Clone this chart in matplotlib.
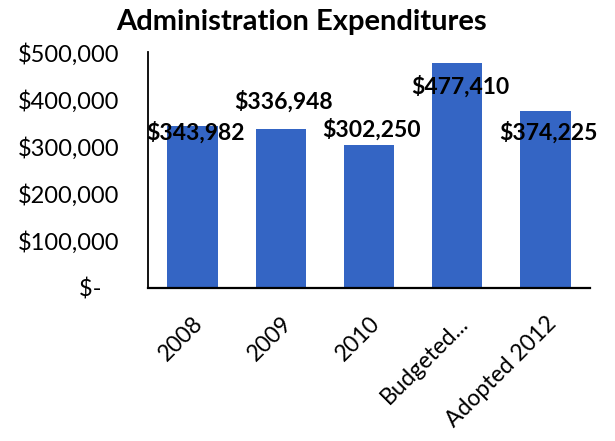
import matplotlib.pyplot as plt
from matplotlib.ticker import FuncFormatter

# administration spending by year
categories = ['2008', '2009', '2010', 'Budgeted...', 'Adopted 2012']
expenditures = [343982, 336948, 302250, 477410, 374225]
# where each value label sits, relative to the top of its bar
label_offsets = [-14000, 59000, 34000, -51000, -44000]

plt.rcParams['font.family'] = ['Lato', 'DejaVu Sans']

fig = plt.figure(figsize=(6.15, 4.41), dpi=100)
ax = fig.add_axes([0.241, 0.347, 0.718, 0.535])

x = range(len(categories))
ax.bar(x, expenditures, width=0.57, color='#3465c4')

for i, (v, off) in enumerate(zip(expenditures, label_offsets)):
    ax.text(i + 0.03, v + off, f'${v:,.0f}', ha='center', va='center',
            fontsize=16.5, fontweight='bold', color='black')

def money(val, pos):
    if val == 0:
        return '$-   '
    return f'${val:,.0f}'

ax.set_ylim(0, 500000)
ax.set_xlim(-0.5, 4.5)
ax.set_yticks(range(0, 500001, 100000))
ax.yaxis.set_major_formatter(FuncFormatter(money))
ax.set_xticks(list(x))
ax.set_xticklabels(categories, rotation=45, ha='right', rotation_mode='anchor')
ax.tick_params(axis='y', length=0, pad=21, labelsize=17)
ax.tick_params(axis='x', length=0, pad=18, labelsize=16.5)

for s in ['top', 'right']:
    ax.spines[s].set_visible(False)
ax.spines['left'].set_linewidth(1.3)
ax.spines['bottom'].set_linewidth(1.6)

fig.text(0.49, 0.95, 'Administration Expenditures', ha='center', va='center',
         fontsize=21, fontweight='bold')

fig.savefig('out.png', dpi=100)
